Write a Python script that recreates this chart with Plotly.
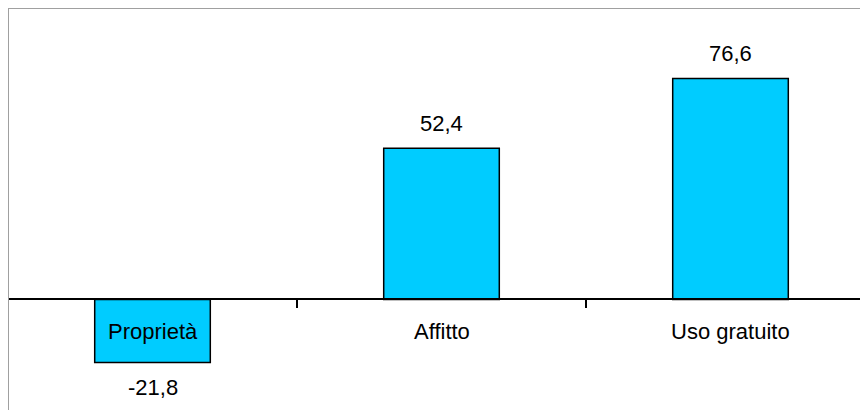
import plotly.graph_objects as go

categories = ["Proprietà", "Affitto", "Uso gratuito"]
values = [-21.8, 52.4, 76.6]
value_labels = ["-21,8", "52,4", "76,6"]

# page body adds an 8px offset, so figure occupies x 8..868, y 8..410
W, H = 860, 402
ymin, ymax = -38.3, 101.0
xmin = -0.5
xmax = -0.5 + W / 289.0

x = list(range(len(categories)))

fig = go.Figure()
fig.add_trace(go.Bar(
    x=x, y=values, width=0.4,
    marker=dict(color="#00CCFF", line=dict(color="#000000", width=1.5)),
    hoverinfo="skip",
))

font = dict(family="Liberation Sans, Arial, sans-serif", size=22, color="#000000")
ann = []
for xi, v, lab in zip(x, values, value_labels):
    if v >= 0:
        ann.append(dict(x=xi, y=v, text=lab, showarrow=False, yanchor="middle", yshift=25, font=font))
    else:
        ann.append(dict(x=xi, y=v, text=lab, showarrow=False, yanchor="middle", yshift=-25, font=font))
for xi, c in zip(x, categories):
    ann.append(dict(x=xi, y=0, text=c, showarrow=False, yanchor="middle", yshift=-32, font=font))

zero_pos = (0 - ymin) / (ymax - ymin)

fig.update_layout(
    width=W, height=H,
    margin=dict(l=0, r=0, t=0, b=0, pad=0),
    paper_bgcolor="white", plot_bgcolor="white",
    showlegend=False,
    annotations=ann,
    xaxis=dict(range=[xmin, xmax], showgrid=False, zeroline=False,
               showline=True, linecolor="#000000", linewidth=2,
               anchor="free", position=zero_pos,
               tickmode="array", tickvals=[-0.5, 0.5, 1.5, 2.5], ticktext=["", "", "", ""],
               ticks="outside", ticklen=8, tickcolor="#000000", tickwidth=2),
    yaxis=dict(range=[ymin, ymax], showgrid=False, zeroline=False, showticklabels=False,
               showline=False),
    shapes=[
        dict(type="line", xref="paper", yref="paper", x0=0, x1=1, y0=1, y1=1,
             line=dict(color="#A0A0A0", width=2)),
        dict(type="line", xref="paper", yref="paper", x0=0, x1=0, y0=0, y1=1,
             line=dict(color="#A0A0A0", width=2)),
    ],
)

fig.write_html("out.html")
